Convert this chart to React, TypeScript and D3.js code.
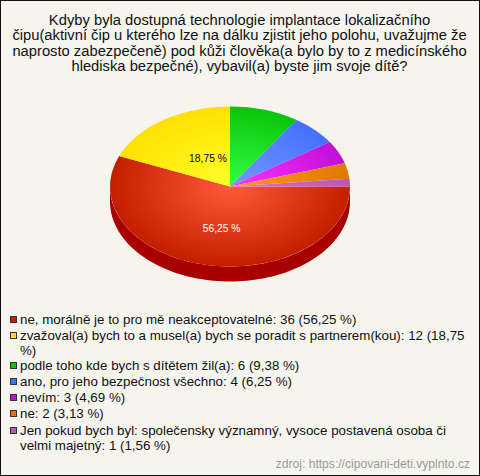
import React from "react";
import * as d3 from "d3";

const titleLines = [
  "Kdyby byla dostupná technologie implantace lokalizačního",
  "čipu(aktivní čip u kterého lze na dálku zjistit jeho polohu, uvažujme že",
  "naprosto zabezpečeně) pod kůži člověka(a bylo by to z medicínského",
  "hlediska bezpečné), vybavil(a) byste jim svoje dítě?",
];
const values = [36, 12, 6, 4, 3, 2, 1];
const edgeColors = ["#c41e00", "#ffe000", "#0bc40b", "#4470ff", "#c010d8", "#e07800", "#b858b0"];
const centerColors = ["#ff5a3c", "#ffff2a", "#33ff44", "#7799ff", "#ff33ff", "#ff9922", "#d478d4"];
const legendLines = [
  ["ne, morálně je to pro mě neakceptovatelné: 36 (56,25 %)"],
  ["zvažoval(a) bych to a musel(a) bych se poradit s partnerem(kou): 12 (18,75", "%)"],
  ["podle toho kde bych s dítětem žil(a): 6 (9,38 %)"],
  ["ano, pro jeho bezpečnost všechno: 4 (6,25 %)"],
  ["nevím: 3 (4,69 %)"],
  ["ne: 2 (3,13 %)"],
  ["Jen pokud bych byl: společensky významný, vysoce postavená osoba či", "velmi majetný: 1 (1,56 %)"],
];
const legendY = [320, 336, 366, 382, 398, 414, 431];
const pctLabels = [
  { text: "56,25 %", index: 0, color: "#ffffff", kx: 0.36, ky: 0.53 },
  { text: "18,75 %", index: 1, color: "#000000", kx: 0.33, ky: 0.43 },
];
const source = "zdroj: https://cipovani-deti.vyplnto.cz";

const W = 480, H = 476, cx = 230, cy = 186.5, rx = 120, ry = 80, depth = 15;
const FONT = "'Liberation Sans', Arial, sans-serif";

export default function App() {
  const pie = d3.pie<number>().sort(null).startAngle(Math.PI / 2).endAngle(Math.PI * 2.5)(values);
  const arc = d3.arc<d3.PieArcDatum<number>>().innerRadius(0).outerRadius(rx);
  const sideArea = d3.area<number>()
    .x((t) => cx + rx * Math.cos(t))
    .y0((t) => cy + ry * Math.sin(t))
    .y1((t) => cy + ry * Math.sin(t) + depth);
  const sideAngles = d3.range(0, 181, 2).map((d) => (d * Math.PI) / 180);
  const sy = ry / rx;
  return (
    <svg width={W} height={H} style={{ position: "absolute", left: 0, top: 0, display: "block" }} fontFamily={FONT}>
      <defs>
        {values.map((_, i) => (
          <radialGradient key={i} id={`g${i}`} gradientUnits="userSpaceOnUse" cx={0} cy={0} r={rx}>
            <stop offset="0" stopColor={centerColors[i]} />
            <stop offset="1" stopColor={edgeColors[i]} />
          </radialGradient>
        ))}
      </defs>
      <rect x={0.5} y={0.5} width={W - 1} height={H - 1} fill="#f5f5ee" stroke="#111" />
      <g textAnchor="middle" fontSize={14.75} fill="#111">
        {titleLines.map((l, i) => (
          <text key={i} x={239.5} y={25 + i * 15.3}>{l}</text>
        ))}
      </g>
      <path d={sideArea(sideAngles) ?? ""} fill="#a80000" />
      <g transform={`translate(${cx},${cy}) scale(1,${sy})`}>
        {pie.map((p, i) => (
          <path key={i} d={arc(p) ?? ""} fill={`url(#g${i})`} />
        ))}
      </g>
      <g fontSize={10.3} textAnchor="middle">
        {pctLabels.map((l) => {
          const p = pie[l.index];
          const a = (p.startAngle + p.endAngle) / 2 - Math.PI / 2;
          return (
            <text key={l.text} x={cx + rx * l.kx * Math.cos(a)} y={cy + ry * l.ky * Math.sin(a) + 4} fill={l.color}>{l.text}</text>
          );
        })}
      </g>
      <g fontSize={13.33} fill="#111">
        {legendLines.map((lines, i) => (
          <g key={i}>
            <rect x={10.5} y={legendY[i] - 3.5} width={6} height={6} fill={edgeColors[i]} stroke="#333" />
            {lines.map((l, j) => (
              <text key={j} x={20} y={legendY[i] + 4 + j * 14.7}>{l}</text>
            ))}
          </g>
        ))}
      </g>
      <text x={470} y={468} textAnchor="end" fontSize={12.1} fill="#999">{source}</text>
    </svg>
  );
}
